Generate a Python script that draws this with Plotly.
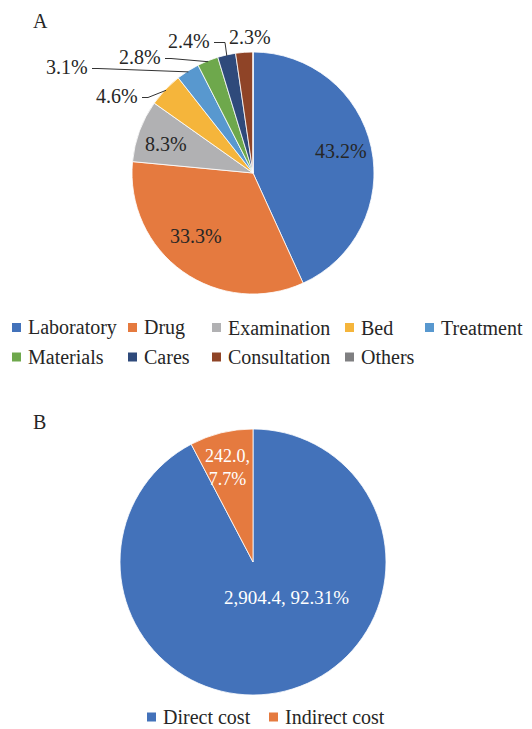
import math
import plotly.graph_objects as go

# ---------------- data ----------------
categories_a = ["Laboratory", "Drug", "Examination", "Bed", "Treatment",
                "Materials", "Cares", "Consultation", "Others"]
share_a = [43.2, 33.3, 8.3, 4.6, 3.1, 2.8, 2.4, 2.3, 0.0]

categories_b = ["Direct cost", "Indirect cost"]
cost_b = [2904.4, 242.0]
pct_b = ["92.31%", "7.7%"]

# ---------------- style ----------------
colors_a = ["#4372BA", "#E57A3F", "#B1B1B3", "#F5B53B", "#5898CF",
            "#6EA84C", "#2F4A7B", "#8F4427", "#7F7F81"]
colors_b = ["#4372BA", "#E57A3F"]
FONT = "Liberation Serif"
TXT = "#262626"
W, H = 532, 729


def px(x):
    return x / W


def py(y):
    return 1 - y / H


CA, RA = (253, 173), 121
CB, RB = (253, 562), 133


def domain(c, r):
    return dict(x=[px(c[0] - r), px(c[0] + r)], y=[py(c[1] + r), py(c[1] - r)])


def polar(c, r, frac):
    t = 2 * math.pi * frac
    return c[0] + r * math.sin(t), c[1] - r * math.cos(t)


def mids(vals):
    tot = sum(vals)
    out, cum = [], 0.0
    for v in vals:
        out.append((cum + v / 2) / tot)
        cum += v
    return out


fig = go.Figure()
fig.add_trace(go.Pie(labels=categories_a, values=share_a, sort=False,
                     direction="clockwise", rotation=0, textinfo="none",
                     marker=dict(colors=colors_a, line=dict(color="white", width=0.8)),
                     domain=domain(CA, RA), showlegend=False))
fig.add_trace(go.Pie(labels=categories_b, values=cost_b, sort=False,
                     direction="clockwise", rotation=0, textinfo="none",
                     marker=dict(colors=colors_b, line=dict(color="white", width=0.8)),
                     domain=domain(CB, RB), showlegend=False))

ann, shapes = [], []

# ---- chart A labels ----
mid_a = mids(share_a)
inside_a = {0: (2, -3), 1: (-6, -9), 2: (-4, 2)}     # nudges
for i, (dx, dy) in inside_a.items():
    x, y = polar(CA, 0.73 * RA, mid_a[i])
    ann.append(dict(x=px(x + dx), y=py(y + dy), text=f"{share_a[i]:.1f}%",
                    showarrow=False, xanchor="center", yanchor="middle",
                    font=dict(family=FONT, size=20, color=TXT)))

# outside labels: right edge / vertical centre of the text, elbow length of leader
outside_a = {3: (140, 96, 6), 4: (90, 67, 6), 5: (163, 57, 6), 6: (212, 41, 11), 7: (273, 37, None)}
for i, (xr, yc, elbow) in outside_a.items():
    ann.append(dict(x=px(xr), y=py(yc), text=f"{share_a[i]:.1f}%",
                    showarrow=False, xanchor="right", yanchor="middle",
                    font=dict(family=FONT, size=20, color=TXT)))
    if elbow is not None:
        ex, ey = polar(CA, RA - 1, mid_a[i])
        ly = yc + 1.5
        shapes.append(dict(type="path", xref="paper", yref="paper",
                           path=f"M {px(xr + 2)},{py(ly)} L {px(xr + 2 + elbow)},{py(ly)} L {px(ex)},{py(ey)}",
                           line=dict(color="#333333", width=1)))

# ---- chart B labels ----
ann.append(dict(x=px(286), y=py(597), text=f"{cost_b[0]:,.1f}, {pct_b[0]}",
                showarrow=False, xanchor="center", yanchor="middle",
                font=dict(family=FONT, size=19, color="white")))
ann.append(dict(x=px(227), y=py(467), text=f"{cost_b[1]:,.1f},<br>{pct_b[1]}",
                showarrow=False, xanchor="center", yanchor="middle",
                font=dict(family=FONT, size=18, color="white")))

# ---- panel titles ----
for t, (x, y) in (("A", (40, 21)), ("B", (39, 422))):
    ann.append(dict(x=px(x), y=py(y), text=t, showarrow=False, xanchor="center",
                    yanchor="middle", font=dict(family=FONT, size=20, color=TXT)))


# ---- legends ----
def legend(names, colors, cols, rows):
    for k, (n, c) in enumerate(zip(names, colors)):
        x0 = cols[k % len(cols)]
        yc = rows[k // len(cols)]
        shapes.append(dict(type="rect", xref="paper", yref="paper",
                           x0=px(x0), x1=px(x0 + 9), y0=py(yc + 4.5), y1=py(yc - 4.5),
                           fillcolor=c, line=dict(width=0)))
        ann.append(dict(x=px(x0 + 14), y=py(yc), text=n, showarrow=False,
                        xanchor="left", yanchor="middle",
                        font=dict(family=FONT, size=20, color=TXT)))


legend(categories_a, colors_a, [12, 128, 212, 345, 425], [327.5, 357])
legend(categories_b, colors_b, [147, 269], [717])

fig.update_layout(width=W, height=H, margin=dict(l=0, r=0, t=0, b=0),
                  paper_bgcolor="white", plot_bgcolor="white",
                  annotations=ann, shapes=shapes)
fig.write_html("out.html", config={"displayModeBar": False},
               post_script="document.body.style.margin='0';document.body.style.overflow='hidden';")
